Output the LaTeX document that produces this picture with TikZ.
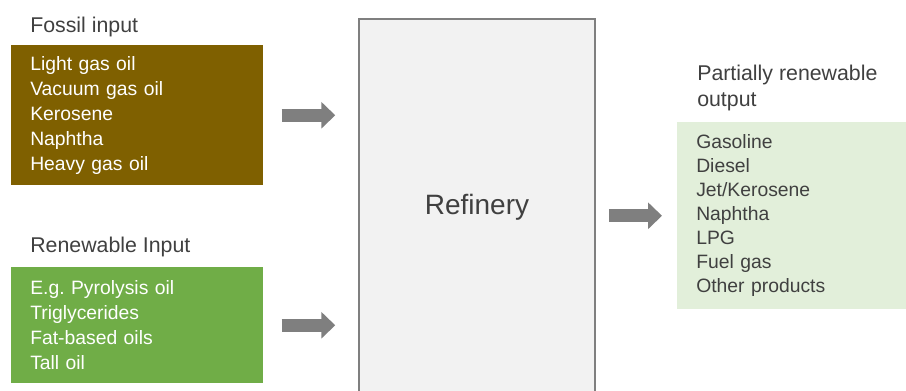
\documentclass[tikz,border=0pt]{standalone}
\usepackage{fontspec}
\setmainfont{Liberation Sans}
\usetikzlibrary{arrows.meta,positioning}
\definecolor{fossilbrown}{HTML}{7F6000}
\definecolor{renewgreen}{HTML}{70AD47}
\definecolor{outgreen}{HTML}{E2EFDA}
\definecolor{refgray}{HTML}{F2F2F2}
\definecolor{darktext}{HTML}{404040}
\definecolor{arrowgray}{HTML}{7F7F7F}
\newdimen\px \px=0.75pt
\frenchspacing

\begin{document}
\begin{tikzpicture}[x=\px,y=-\px]
\tikzset{
	inbox/.style={
		rectangle,
		inner xsep=19\px,
		inner ysep=0pt,
		text width=214\px,
		align=left,
		minimum width=252\px,
		anchor=north west,
		text=white,
		font=\fontsize{14.5}{18.75}\selectfont
	},
	outbox/.style={
		inbox,
		text width=200\px,
		minimum width=238\px,
		fill=outgreen,
		text=darktext,
		font=\fontsize{14.5}{18}\selectfont
	},
	refbox/.style={
		rectangle,
		draw=arrowgray,
		line width=1.5\px,
		fill=refgray,
		minimum width=236\px,
		minimum height=376\px,
		text=darktext,
		font=\fontsize{21}{25}\selectfont
	},
	lbl/.style={
		inner sep=0pt,
		anchor=north west,
		align=left,
		text=darktext,
		font=\fontsize{16}{19}\selectfont
	},
	flowarrow/.style={
		draw=arrowgray,
		line width=13\px,
		-{Triangle[length=10.5pt,width=19.5pt]}
	},
}
\clip (0,0) rectangle (906,391);

\node (fossil) [inbox, fill=fossilbrown, minimum height=140\px] at (11,45)
	{Light gas oil\\ Vacuum gas oil\\ Kerosene\\ Naphtha\\ Heavy gas oil};
\node (renew) [inbox, fill=renewgreen, minimum height=116\px] at (11,267)
	{E.g. Pyrolysis oil\\ Triglycerides\\ Fat-based oils\\ Tall oil};
\node (refinery) [refbox] at (477,207) {Refinery};
\node (output) [outbox, minimum height=187\px] at (677,122)
	{Gasoline\\ Diesel\\ Jet/Kerosene\\ Naphtha\\ LPG\\ Fuel gas\\ Other products};

\node (fossillbl) [lbl] at (30,17) {Fossil input};
\node (renewlbl) [lbl] at (30,237) {Renewable Input};
\node (outputlbl) [lbl] at (697,65) {Partially renewable\\ output};

\draw [flowarrow, shorten <=18\px, shorten >=23\px] (fossil.east) -- (fossil.east -| refinery.west);
\draw [flowarrow, shorten <=18\px, shorten >=23\px] (renew.east) -- (renew.east -| refinery.west);
\draw [flowarrow, shorten <=13\px, shorten >=15\px] (refinery.east |- output.west) -- (output.west);
\end{tikzpicture}
\end{document}
